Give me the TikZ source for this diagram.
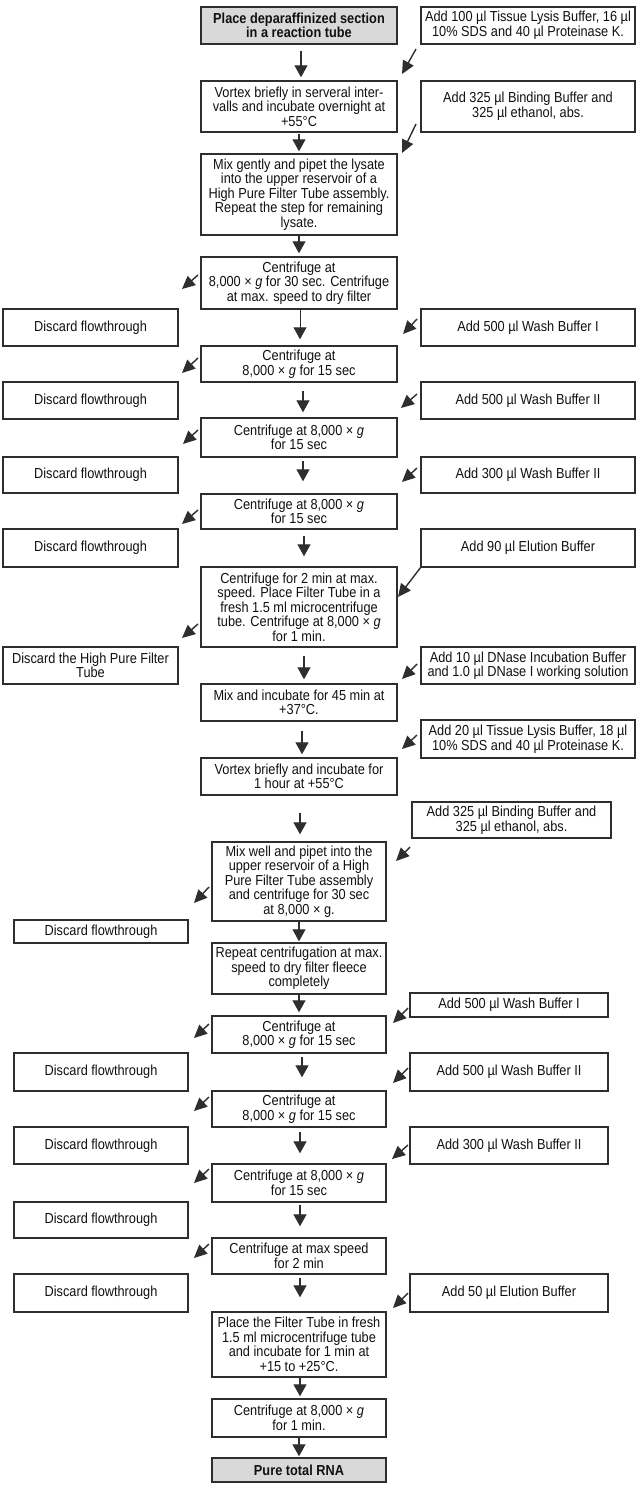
\documentclass[tikz,border=0pt]{standalone}
\usepackage{fontspec}
\setmainfont{Liberation Sans}[FakeStretch=0.88]
\usetikzlibrary{arrows.meta}
\definecolor{ln}{HTML}{2E2E2E}
\definecolor{tx}{HTML}{111111}
\definecolor{hd}{HTML}{D9D9D9}
\begin{document}
\begin{tikzpicture}[x=1pt,y=-1pt,
  box/.style={draw=ln, line width=1.4pt, fill=white, align=center, inner sep=0pt, text=tx,
    font=\fontsize{14.5}{14.5}\selectfont},
  hbox/.style={box, fill=hd, font=\fontsize{14.5}{14.5}\selectfont\bfseries},
  mw/.style={minimum width=196pt},
  sw/.style={minimum width=174pt},
  rw/.style={minimum width=214pt},
  lw/.style={minimum width=175pt},
  qw/.style={minimum width=198pt},
  flow/.style={draw=ln, line width=1.3pt, -{Triangle[width=13pt,length=12pt]}},
  diag/.style={draw=ln, line width=1.4pt, -{Triangle[width=12pt,length=13pt]}}]
\fill[white] (0,0) rectangle (640,1487);
\useasboundingbox (0,0) rectangle (640,1487);
% upper part
\node[hbox,mw,minimum height=37pt] (m1) at (299,25.5) {Place deparaffinized section\\in a reaction tube};
\node[box,rw,minimum height=37pt] (r1) at (528,25.5) {Add 100 µl Tissue Lysis Buffer, 16 µl\\10\% SDS and 40 µl Proteinase K.};
\node[box,mw,minimum height=51pt] (m2) at (299,106.5) {Vortex briefly in serveral inter-\\valls and incubate overnight at\\+55°C};
\node[box,rw,minimum height=51pt] (r2) at (528,106.5) {Add 325 µl Binding Buffer and\\325 µl ethanol, abs.};
\node[box,mw,minimum height=81pt] (m3) at (299,194.5) {Mix gently and pipet the lysate\\into the upper reservoir of a\\High Pure Filter Tube assembly.\\Repeat the step for remaining\\lysate.};
\node[box,mw,minimum height=52pt] (m4) at (299,283) {Centrifuge at\\8,000 × \textit{g} for 30 sec. Centrifuge\\at max. speed to dry filter};
\node[box,lw,minimum height=37pt] (l1) at (90.5,327.5) {Discard flowthrough};
\node[box,rw,minimum height=37pt] (r3) at (528,327.5) {Add 500 µl Wash Buffer I};
\node[box,mw,minimum height=36pt] (m5) at (299,364) {Centrifuge at\\8,000 × \textit{g} for 15 sec};
\node[box,lw,minimum height=37pt] (l2) at (90.5,400.5) {Discard flowthrough};
\node[box,rw,minimum height=37pt] (r4) at (528,400.5) {Add 500 µl Wash Buffer II};
\node[box,mw,minimum height=39pt] (m6) at (299,437.5) {Centrifuge at 8,000 × \textit{g}\\for 15 sec};
\node[box,lw,minimum height=36pt] (l3) at (90.5,475) {Discard flowthrough};
\node[box,rw,minimum height=36pt] (r5) at (528,475) {Add 300 µl Wash Buffer II};
\node[box,mw,minimum height=35pt] (m7) at (299,511.5) {Centrifuge at 8,000 × \textit{g}\\for 15 sec};
\node[box,lw,minimum height=38pt] (l4) at (90.5,548) {Discard flowthrough};
\node[box,rw,minimum height=38pt] (r6) at (528,548) {Add 90 µl Elution Buffer};
\node[box,mw,minimum height=80pt] (m8) at (299,607) {Centrifuge for 2 min at max.\\speed. Place Filter Tube in a\\fresh 1.5 ml microcentrifuge\\tube. Centrifuge at 8,000 × \textit{g}\\for 1 min.};
\node[box,lw,minimum height=37pt] (l5) at (90.5,665.5) {Discard the High Pure Filter\\Tube};
\node[box,rw,minimum height=37pt] (r7) at (528,665.5) {Add 10 µl DNase Incubation Buffer\\and 1.0 µl DNase I working solution};
\node[box,mw,minimum height=37pt] (m9) at (299,702.5) {Mix and incubate for 45 min at\\+37°C.};
\node[box,rw,minimum height=38pt] (r8) at (528,739) {Add 20 µl Tissue Lysis Buffer, 18 µl\\10\% SDS and 40 µl Proteinase K.};
\node[box,mw,minimum height=37pt] (m10) at (299,776.5) {Vortex briefly and incubate for\\1 hour at +55°C};
% lower part
\node[box,minimum width=199pt,minimum height=36pt] (r9) at (511.5,820) {Add 325 µl Binding Buffer and\\325 µl ethanol, abs.};
\node[box,sw,minimum height=79pt] (m11) at (299,881.5) {Mix well and pipet into the\\upper reservoir of a High\\Pure Filter Tube assembly\\and centrifuge for 30 sec\\at 8,000 × g.};
\node[box,sw,minimum height=23pt] (l6) at (101,931.5) {Discard flowthrough};
\node[box,sw,minimum height=51pt] (m12) at (299,968.5) {Repeat centrifugation at max.\\speed to dry filter fleece\\completely};
\node[box,qw,minimum height=24pt] (r10) at (509,1005) {Add 500 µl Wash Buffer I};
\node[box,sw,minimum height=37pt] (m13) at (299,1034.5) {Centrifuge at\\8,000 × \textit{g} for 15 sec};
\node[box,sw,minimum height=38pt] (l7) at (101,1072) {Discard flowthrough};
\node[box,qw,minimum height=38pt] (r11) at (509,1072) {Add 500 µl Wash Buffer II};
\node[box,sw,minimum height=36pt] (m14) at (299,1109) {Centrifuge at\\8,000 × \textit{g} for 15 sec};
\node[box,sw,minimum height=37pt] (l8) at (101,1145.5) {Discard flowthrough};
\node[box,qw,minimum height=37pt] (r12) at (509,1145.5) {Add 300 µl Wash Buffer II};
\node[box,sw,minimum height=38pt] (m15) at (299,1183) {Centrifuge at 8,000 × \textit{g}\\for 15 sec};
\node[box,sw,minimum height=36pt] (l9) at (101,1220) {Discard flowthrough};
\node[box,sw,minimum height=36pt] (m16) at (299,1256) {Centrifuge at max speed\\for 2 min};
\node[box,sw,minimum height=38pt] (l10) at (101,1293) {Discard flowthrough};
\node[box,qw,minimum height=38pt] (r13) at (509,1293) {Add 50 µl Elution Buffer};
\node[box,sw,minimum height=65pt] (m17) at (299,1344.5) {Place the Filter Tube in fresh\\1.5 ml microcentrifuge tube\\and incubate for 1 min at\\+15 to +25°C.};
\node[box,sw,minimum height=38pt] (m18) at (299,1418) {Centrifuge at 8,000 × \textit{g}\\for 1 min.};
\node[hbox,sw,minimum height=24pt] (m19) at (299,1470) {Pure total RNA};
% main flow arrows
\draw[flow,shorten <=6pt,shorten >=3pt] ([xshift=2pt]m1.south) -- ([xshift=2pt]m2.north);
\draw[flow,shorten <=1pt,shorten >=2pt] (m2.south) -- (m3.north);
\draw[flow,shorten >=3pt] (m3.south) -- (m4.north);
\draw[flow,line width=0.9pt,shorten >=6pt] ([xshift=1pt]m4.south) -- ([xshift=1pt]m5.north);
\draw[flow,shorten <=8pt,shorten >=5pt] ([xshift=4pt]m5.south) -- ([xshift=4pt]m6.north);
\draw[flow,shorten <=3pt,shorten >=12pt] ([xshift=4pt]m6.south) -- ([xshift=4pt]m7.north);
\draw[flow,shorten <=6pt,shorten >=10pt] ([xshift=5pt]m7.south) -- ([xshift=5pt]m8.north);
\draw[flow,shorten <=8pt,shorten >=4pt] ([xshift=5pt]m8.south) -- ([xshift=5pt]m9.north);
\draw[flow,shorten <=9pt,shorten >=3pt] ([xshift=3pt]m9.south) -- ([xshift=3pt]m10.north);
\draw[flow,shorten <=17pt,shorten >=7pt] ([xshift=1pt]m10.south) -- ([xshift=1pt]m11.north);
\draw[flow,shorten >=1pt] (m11.south) -- (m12.north);
\draw[flow,shorten >=3pt] (m12.south) -- (m13.north);
\draw[flow,shorten <=3pt,shorten >=13pt] ([xshift=3pt]m13.south) -- ([xshift=3pt]m14.north);
\draw[flow,shorten <=4pt,shorten >=10pt] ([xshift=1pt]m14.south) -- ([xshift=1pt]m15.north);
\draw[flow,shorten <=2pt,shorten >=11pt] ([xshift=1pt]m15.south) -- ([xshift=1pt]m16.north);
\draw[flow,shorten <=3pt,shorten >=14pt] ([xshift=1pt]m16.south) -- ([xshift=1pt]m17.north);
\draw[flow,shorten >=2pt] ([xshift=1pt]m17.south) -- ([xshift=1pt]m18.north);
\draw[flow,shorten >=1pt] (m18.south) -- (m19.north);
% diagonal arrows: reagents in
\coordinate (d1s) at (416,49);   \coordinate (d1e) at (402,74);
\coordinate (d2s) at (416,124);  \coordinate (d2e) at (402,153);
\coordinate (d3s) at (417,319);  \coordinate (d3e) at (403,334);
\coordinate (d4s) at (417,394);  \coordinate (d4e) at (401,408);
\coordinate (d5s) at (417,468);  \coordinate (d5e) at (402,482);
\coordinate (d6s) at (421,567);  \coordinate (d6e) at (398,597);
\coordinate (d7s) at (417,664);  \coordinate (d7e) at (402,679);
\coordinate (d8s) at (417,735);  \coordinate (d8e) at (402,749);
\coordinate (d9s) at (410,847);  \coordinate (d9e) at (396,861);
\coordinate (d10s) at (408,1008); \coordinate (d10e) at (393,1023);
\coordinate (d11s) at (408,1068); \coordinate (d11e) at (393,1083);
\coordinate (d12s) at (408,1145); \coordinate (d12e) at (392,1159);
\coordinate (d13s) at (408,1293); \coordinate (d13e) at (393,1308);
\foreach \i in {1,...,13} {\draw[diag] (d\i s) -- (d\i e);}
% diagonal arrows: flowthrough out
\coordinate (e1s) at (198,275);  \coordinate (e1e) at (182,289);
\coordinate (e2s) at (198,358);  \coordinate (e2e) at (182,373);
\coordinate (e3s) at (198,430);  \coordinate (e3e) at (183,444);
\coordinate (e4s) at (198,510);  \coordinate (e4e) at (182,524);
\coordinate (e5s) at (198,624);  \coordinate (e5e) at (182,638);
\coordinate (e6s) at (209,887);  \coordinate (e6e) at (194,903);
\coordinate (e7s) at (209,1024); \coordinate (e7e) at (194,1038);
\coordinate (e8s) at (209,1097); \coordinate (e8e) at (194,1111);
\coordinate (e9s) at (209,1169); \coordinate (e9e) at (194,1183);
\coordinate (e10s) at (209,1244); \coordinate (e10e) at (194,1258);
\foreach \i in {1,...,10} {\draw[diag] (e\i s) -- (e\i e);}
\end{tikzpicture}
\end{document}
